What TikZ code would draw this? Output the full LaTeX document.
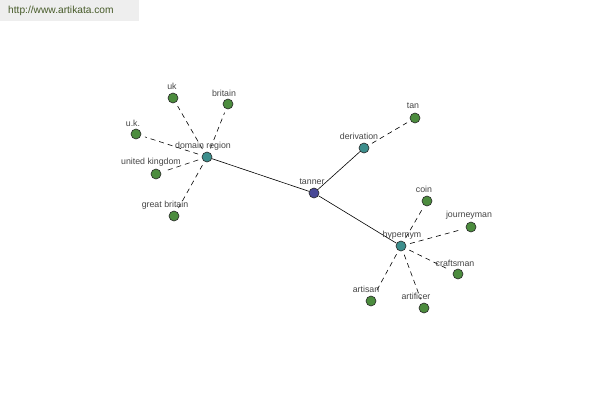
\documentclass[tikz,border=0pt]{standalone}
\usepackage{fontspec}
\setmainfont{Liberation Sans}
\definecolor{leafc}{RGB}{76,140,62}
\definecolor{midc}{RGB}{60,142,140}
\definecolor{rootc}{RGB}{72,72,150}
\definecolor{edgec}{RGB}{40,40,40}
\definecolor{txtc}{RGB}{70,70,70}
\definecolor{wmbg}{RGB}{238,238,238}
\definecolor{wmtx}{RGB}{70,90,40}
\tikzset{
  vtx/.style={circle,draw=edgec,line width=0.6pt,minimum size=10pt,inner sep=0pt},
  leaf/.style={vtx,fill=leafc},
  mid/.style={vtx,fill=midc},
  root/.style={vtx,fill=rootc},
  lbl/.style={font=\fontsize{8.8}{10}\selectfont,text=txtc,inner sep=0pt},
  solidedge/.style={draw=black,line width=0.6pt},
  dashedge/.style={draw=black,line width=0.6pt,dash pattern=on 5pt off 4pt,shorten >=4pt,shorten <=4pt},
}
\begin{document}
\begin{tikzpicture}[x=1pt,y=-1pt]
\useasboundingbox[fill=white] (0,0) rectangle (600,400);
\fill[wmbg] (0,0) rectangle (139,21);
\node[anchor=west,inner sep=0pt,text=wmtx,font=\fontsize{10.2}{12}\selectfont] (wm) at (8,11) {http://www.artikata.com};

\node[root] (tanner) at (314,193) {};
\node[mid] (domain) at (207,157) {};
\node[mid] (deriv) at (364,148) {};
\node[mid] (hyper) at (401,246) {};
\node[leaf] (tan) at (415,118) {};
\node[leaf] (uk) at (173,98) {};
\node[leaf] (britain) at (228,104) {};
\node[leaf] (uk2) at (136,134) {};
\node[leaf] (ukd) at (156,174) {};
\node[leaf] (gb) at (174,216) {};
\node[leaf] (coin) at (427,201) {};
\node[leaf] (journ) at (471,227) {};
\node[leaf] (craft) at (458,274) {};
\node[leaf] (artisan) at (371,301) {};
\node[leaf] (artif) at (424,308) {};

\draw[solidedge] (tanner) -- (domain);
\draw[solidedge] (tanner) -- (deriv);
\draw[solidedge] (tanner) -- (hyper);
\draw[dashedge] (deriv) -- (tan);
\foreach \n in {uk,britain,uk2,ukd,gb} \draw[dashedge] (domain) -- (\n);
\foreach \n in {coin,journ,craft,artisan,artif} \draw[dashedge] (hyper) -- (\n);

\node[lbl] (l-tanner) at (312,182) {tanner};
\node[lbl] (l-domain) at (203,146) {domain region};
\node[lbl] (l-deriv) at (359,136) {derivation};
\node[lbl] (l-hyper) at (402,235) {hypernym};
\node[lbl] (l-tan) at (413,106) {tan};
\node[lbl] (l-uk) at (172,86) {uk};
\node[lbl] (l-britain) at (224,93) {britain};
\node[lbl] (l-uk2) at (133,123) {u.k.};
\node[lbl] (l-ukd) at (151,162) {united kingdom};
\node[lbl] (l-gb) at (165,205) {great britain};
\node[lbl] (l-coin) at (424,189) {coin};
\node[lbl] (l-journ) at (469,215) {journeyman};
\node[lbl] (l-craft) at (455,263) {craftsman};
\node[lbl] (l-artisan) at (366,289) {artisan};
\node[lbl] (l-artif) at (416,296) {artificer};
\end{tikzpicture}
\end{document}
